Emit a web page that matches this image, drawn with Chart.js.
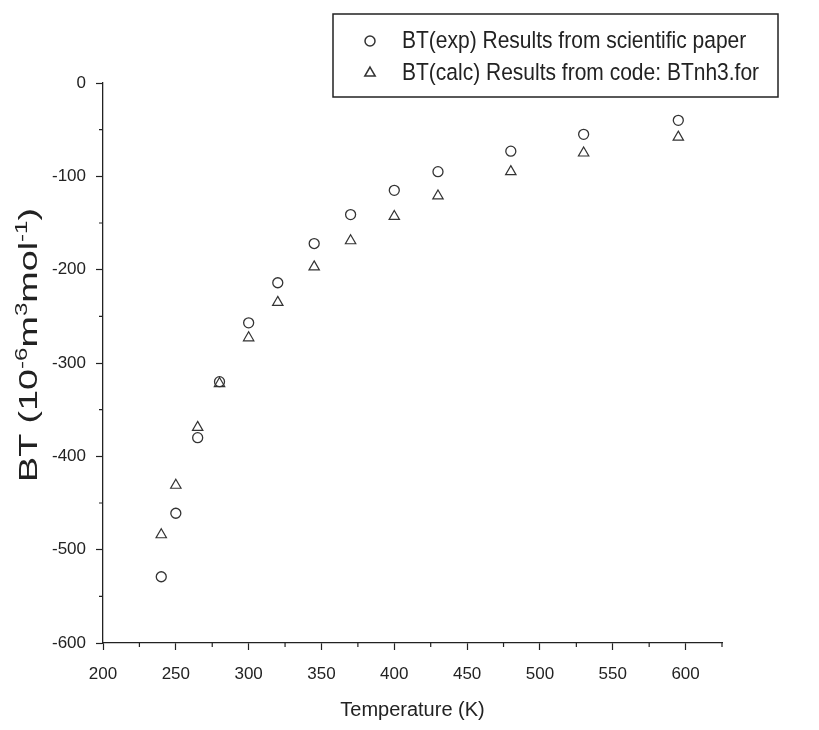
<!DOCTYPE html>
<html>
<head>
<meta charset="utf-8">
<title>BT vs Temperature</title>
<script src="https://cdn.jsdelivr.net/npm/chart.js@4.4.1/dist/chart.umd.min.js"></script>
<style>
  html, body { margin: 0; padding: 0; background: #fff; }
  #wrap { width: 819px; height: 730px; }
</style>
</head>
<body>
<div id="wrap"><canvas id="chart" width="819" height="730"></canvas></div>
<script>
// Temperature (K) of each point
const temperatures = [240, 250, 265, 280, 300, 320, 345, 370, 400, 430, 480, 530, 595];
// BT in 10^-6 m^3 mol^-1
const btExp  = [-529, -461, -380, -320, -257, -214, -172, -141, -115, -95, -73, -55, -40];
const btCalc = [-484, -431, -369, -322, -273, -235, -197, -169, -143, -121, -95, -75, -58];

const seriesLabels = [
  'BT(exp) Results from scientific paper',
  'BT(calc) Results from code: BTnh3.for'
];

// labelled ticks; the ones in between are minor
const xTickLabels = [200, 250, 300, 350, 400, 450, 500, 550, 600];
const yTickLabels = [0, -100, -200, -300, -400, -500, -600];

// y title pieces: [text, isSuperscript]
const yTitleParts = [
  ['BT (10', false], ['-6', true], ['m', false], ['3', true],
  ['mol', false], ['-1', true], [')', false]
];
const xTitle = 'Temperature (K)';

const INK = '#222';
const FONT = "'Liberation Sans', Arial, Helvetica, sans-serif";

const toPoints = (xs, ys) => xs.map((x, i) => ({ x: x, y: ys[i] }));

const isMajorX = v => xTickLabels.includes(v);
const isMajorY = v => yTickLabels.includes(v);

/**
 * Draw short minor ticks at the unlabelled tick positions
 */
const minorTicks = {
  id: 'minorTicks',
  afterDraw(chart) {
    const { ctx, scales: { x, y } } = chart;
    ctx.save();
    ctx.strokeStyle = INK;
    ctx.lineWidth = 1.2;
    ctx.beginPath();
    x.ticks.forEach(t => {
      if (isMajorX(t.value)) return;
      const px = x.getPixelForValue(t.value);
      ctx.moveTo(px, y.bottom);
      ctx.lineTo(px, y.bottom + 4);
    });
    y.ticks.forEach(t => {
      if (isMajorY(t.value)) return;
      const py = y.getPixelForValue(t.value);
      ctx.moveTo(x.left, py);
      ctx.lineTo(x.left - 4, py);
    });
    ctx.stroke();
    ctx.restore();
  }
};

/**
 * Rotated y title with real superscripts (scanned original is stretched)
 */
const yTitle = {
  id: 'yTitle',
  afterDraw(chart) {
    const ctx = chart.ctx;
    const big = '25px ' + FONT;
    const small = '16px ' + FONT;
    const targetLen = 274;
    ctx.save();
    let total = 0;
    yTitleParts.forEach(([txt, sup]) => {
      ctx.font = sup ? small : big;
      total += ctx.measureText(txt).width;
    });
    ctx.translate(37, 345);
    ctx.rotate(-Math.PI / 2);
    ctx.scale(targetLen / total, 1);
    ctx.fillStyle = INK;
    ctx.textBaseline = 'alphabetic';
    let cx = -total / 2;
    yTitleParts.forEach(([txt, sup]) => {
      ctx.font = sup ? small : big;
      ctx.fillText(txt, cx, sup ? -10 : 0);
      cx += ctx.measureText(txt).width;
    });
    ctx.restore();
  }
};

/**
 * Boxed legend in the upper right, like the original figure
 */
const boxLegend = {
  id: 'boxLegend',
  afterDraw(chart) {
    const ctx = chart.ctx;
    const box = { left: 333, top: 14, right: 778, bottom: 97 };
    ctx.save();
    ctx.fillStyle = '#fff';
    ctx.fillRect(box.left, box.top, box.right - box.left, box.bottom - box.top);
    ctx.strokeStyle = INK;
    ctx.lineWidth = 1.5;
    ctx.strokeRect(box.left, box.top, box.right - box.left, box.bottom - box.top);

    ctx.font = '21px ' + FONT;
    ctx.textBaseline = 'middle';
    chart.data.datasets.forEach((ds, i) => {
      const cy = box.top + 27 + i * 32;
      ctx.strokeStyle = ds.borderColor;
      ctx.fillStyle = 'rgba(0,0,0,0)';
      Chart.helpers.drawPoint(ctx, {
        pointStyle: ds.pointStyle,
        radius: ds.pointRadius,
        borderWidth: ds.borderWidth,
        rotation: 0
      }, 370, cy);
      ctx.save();
      ctx.translate(402, cy);
      ctx.scale(1, 1.15);
      ctx.fillStyle = INK;
      ctx.fillText(ds.label, 0, 0);
      ctx.restore();
    });
    ctx.restore();
  }
};

const axisGrid = {
  drawOnChartArea: false,
  drawTicks: true,
  tickLength: 7,
  tickWidth: 1.2
};
const axisBorder = { display: true, color: INK, width: 1.3 };

new Chart(document.getElementById('chart'), {
  type: 'scatter',
  data: {
    datasets: [
      {
        label: seriesLabels[0],
        data: toPoints(temperatures, btExp),
        pointStyle: 'circle',
        pointRadius: 5,
        borderWidth: 1.3,
        borderColor: '#333',
        backgroundColor: 'rgba(0,0,0,0)'
      },
      {
        label: seriesLabels[1],
        data: toPoints(temperatures, btCalc),
        pointStyle: 'triangle',
        pointRadius: 6,
        borderWidth: 1.2,
        borderColor: '#333',
        backgroundColor: 'rgba(0,0,0,0)'
      }
    ]
  },
  options: {
    responsive: false,
    animation: false,
    layout: {
      padding: { left: 0, top: 83, right: 97, bottom: 0 }
    },
    plugins: {
      legend: { display: false },
      tooltip: { enabled: false }
    },
    scales: {
      x: {
        type: 'linear',
        position: 'bottom',
        min: 200,
        max: 625,
        afterFit(scale) { scale.height = 87; },
        grid: Object.assign({}, axisGrid, {
          tickColor: ctx => isMajorX(ctx.tick.value) ? INK : 'rgba(0,0,0,0)'
        }),
        border: axisBorder,
        ticks: {
          stepSize: 25,
          autoSkip: false,
          maxRotation: 0,
          padding: 14,
          color: INK,
          font: { family: FONT, size: 17 },
          callback: v => isMajorX(v) ? String(v) : ''
        },
        title: {
          display: true,
          text: xTitle,
          color: INK,
          font: { family: FONT, size: 20 },
          padding: { top: 0, bottom: 8 }
        }
      },
      y: {
        type: 'linear',
        min: -600,
        max: 0,
        afterFit(scale) { scale.width = 103; },
        grid: Object.assign({}, axisGrid, {
          tickColor: ctx => isMajorY(ctx.tick.value) ? INK : 'rgba(0,0,0,0)'
        }),
        border: axisBorder,
        ticks: {
          stepSize: 50,
          autoSkip: false,
          padding: 10,
          color: INK,
          font: { family: FONT, size: 17 },
          callback: v => isMajorY(v) ? String(v) : ''
        }
      }
    }
  },
  plugins: [minorTicks, yTitle, boxLegend]
});
</script>
</body>
</html>
